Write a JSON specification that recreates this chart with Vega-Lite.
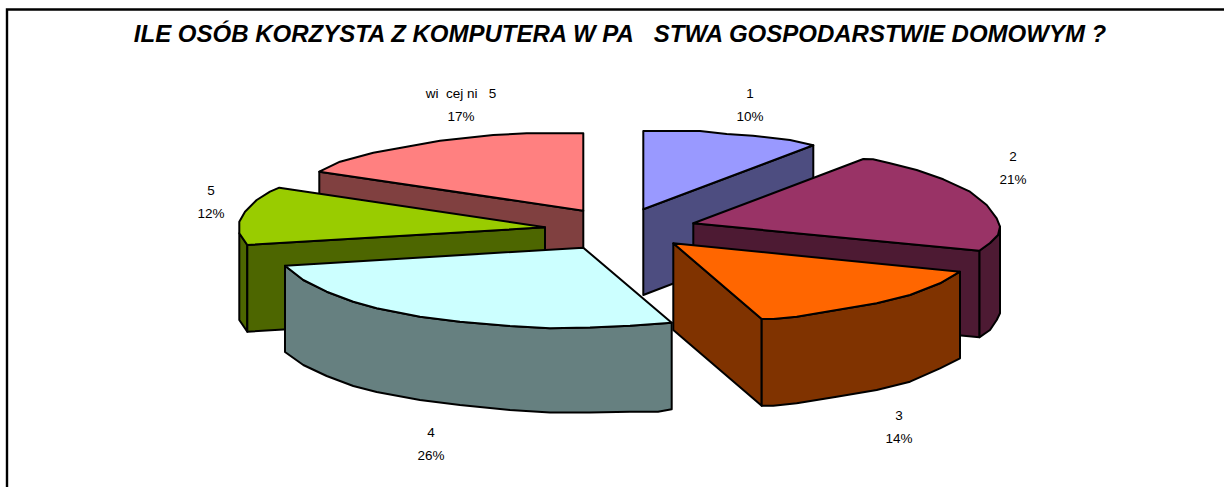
{
"$schema":"https://vega.github.io/schema/vega-lite/v6.json",
"description":"Vega-Lite has no 3D or elliptical pie, so each slice face is a closed outline whose vertices were read off the reference picture, in the picture's own x/y units; the shares and labels are the printed values.",
"width":1224,"height":487,"padding":0,"autosize":{"type":"none"},
"background":"white",
"view":{"stroke":null},
"datasets":{
"frame":[{"i":0,"x":7,"y":487},{"i":1,"x":7,"y":9.5},{"i":2,"x":1224,"y":9.5}],
"parts":[
{"part":"1 side","i":0,"x":643.3,"y":209.3},{"part":"1 side","i":1,"x":813.3,"y":145.3},{"part":"1 side","i":2,"x":813.3,"y":230},{"part":"1 side","i":3,"x":643.3,"y":295},
{"part":"1 top","i":0,"x":643.3,"y":131},{"part":"1 top","i":1,"x":700,"y":131},{"part":"1 top","i":2,"x":726.7,"y":134},{"part":"1 top","i":3,"x":753,"y":135.7},{"part":"1 top","i":4,"x":790,"y":140},{"part":"1 top","i":5,"x":813.3,"y":145.3},{"part":"1 top","i":6,"x":643.3,"y":209.3},
{"part":"2 rim","i":0,"x":979.3,"y":250.7},{"part":"2 rim","i":1,"x":990,"y":243},{"part":"2 rim","i":2,"x":998,"y":235},{"part":"2 rim","i":3,"x":1000,"y":226.7},{"part":"2 rim","i":4,"x":1000,"y":313.3},{"part":"2 rim","i":5,"x":996.7,"y":320},{"part":"2 rim","i":6,"x":990,"y":330},{"part":"2 rim","i":7,"x":979.3,"y":337.3},
{"part":"2 side","i":0,"x":693.3,"y":223.3},{"part":"2 side","i":1,"x":979.3,"y":250.7},{"part":"2 side","i":2,"x":979.3,"y":337.3},{"part":"2 side","i":3,"x":693.3,"y":310},
{"part":"2 top","i":0,"x":693.3,"y":223.3},{"part":"2 top","i":1,"x":863.3,"y":159},{"part":"2 top","i":2,"x":873,"y":159.3},{"part":"2 top","i":3,"x":890,"y":163.3},{"part":"2 top","i":4,"x":916.7,"y":170},{"part":"2 top","i":5,"x":943.3,"y":179.3},{"part":"2 top","i":6,"x":970,"y":191.7},{"part":"2 top","i":7,"x":986.7,"y":205},{"part":"2 top","i":8,"x":996.7,"y":218.3},{"part":"2 top","i":9,"x":1000,"y":226.7},{"part":"2 top","i":10,"x":998,"y":235},{"part":"2 top","i":11,"x":990,"y":243},{"part":"2 top","i":12,"x":979.3,"y":250.7},
{"part":"3 side","i":0,"x":673.3,"y":243.3},{"part":"3 side","i":1,"x":761.7,"y":319},{"part":"3 side","i":2,"x":761.7,"y":405.7},{"part":"3 side","i":3,"x":673.3,"y":330},
{"part":"3 rim","i":0,"x":761.7,"y":319},{"part":"3 rim","i":1,"x":773.3,"y":319},{"part":"3 rim","i":2,"x":796.7,"y":316.7},{"part":"3 rim","i":3,"x":836.7,"y":310},{"part":"3 rim","i":4,"x":876.7,"y":303.3},{"part":"3 rim","i":5,"x":910,"y":295},{"part":"3 rim","i":6,"x":940,"y":283.3},{"part":"3 rim","i":7,"x":960,"y":271.7},{"part":"3 rim","i":8,"x":960,"y":358.3},{"part":"3 rim","i":9,"x":940,"y":368.3},{"part":"3 rim","i":10,"x":910,"y":381.7},{"part":"3 rim","i":11,"x":876.7,"y":390},{"part":"3 rim","i":12,"x":836.7,"y":396.7},{"part":"3 rim","i":13,"x":796.7,"y":403.3},{"part":"3 rim","i":14,"x":773.3,"y":405.7},{"part":"3 rim","i":15,"x":761.7,"y":405.7},
{"part":"3 top","i":0,"x":673.3,"y":243.3},{"part":"3 top","i":1,"x":960,"y":271.7},{"part":"3 top","i":2,"x":940,"y":283.3},{"part":"3 top","i":3,"x":910,"y":295},{"part":"3 top","i":4,"x":876.7,"y":303.3},{"part":"3 top","i":5,"x":836.7,"y":310},{"part":"3 top","i":6,"x":796.7,"y":316.7},{"part":"3 top","i":7,"x":773.3,"y":319},{"part":"3 top","i":8,"x":761.7,"y":319},
{"part":"w side","i":0,"x":319.3,"y":171.7},{"part":"w side","i":1,"x":583.3,"y":210.7},{"part":"w side","i":2,"x":583.3,"y":297},{"part":"w side","i":3,"x":319.3,"y":258},
{"part":"w top","i":0,"x":319.3,"y":171.7},{"part":"w top","i":1,"x":340,"y":161.7},{"part":"w top","i":2,"x":373.3,"y":152.7},{"part":"w top","i":3,"x":406.7,"y":146.7},{"part":"w top","i":4,"x":440,"y":140.7},{"part":"w top","i":5,"x":493.3,"y":135},{"part":"w top","i":6,"x":526.7,"y":133.3},{"part":"w top","i":7,"x":583.3,"y":133.3},{"part":"w top","i":8,"x":583.3,"y":210.7},
{"part":"5 rim","i":0,"x":239.3,"y":233.3},{"part":"5 rim","i":1,"x":247.3,"y":245},{"part":"5 rim","i":2,"x":247.3,"y":331.7},{"part":"5 rim","i":3,"x":239.3,"y":320},
{"part":"5 side","i":0,"x":247.3,"y":245},{"part":"5 side","i":1,"x":545,"y":227.3},{"part":"5 side","i":2,"x":545,"y":314},{"part":"5 side","i":3,"x":247.3,"y":331.7},
{"part":"5 top","i":0,"x":545,"y":227.3},{"part":"5 top","i":1,"x":279.3,"y":187.7},{"part":"5 top","i":2,"x":270,"y":191.7},{"part":"5 top","i":3,"x":256.7,"y":200},{"part":"5 top","i":4,"x":245,"y":211.7},{"part":"5 top","i":5,"x":239.3,"y":221.7},{"part":"5 top","i":6,"x":239.3,"y":233.3},{"part":"5 top","i":7,"x":247.3,"y":245},
{"part":"4 rim","i":0,"x":285,"y":265.7},{"part":"4 rim","i":1,"x":303.3,"y":280},{"part":"4 rim","i":2,"x":326.7,"y":291.7},{"part":"4 rim","i":3,"x":353.3,"y":301.7},{"part":"4 rim","i":4,"x":376.7,"y":308.3},{"part":"4 rim","i":5,"x":420,"y":316.7},{"part":"4 rim","i":6,"x":460,"y":321.7},{"part":"4 rim","i":7,"x":510,"y":326},{"part":"4 rim","i":8,"x":550,"y":328.3},{"part":"4 rim","i":9,"x":590,"y":327.5},{"part":"4 rim","i":10,"x":630,"y":325.7},{"part":"4 rim","i":11,"x":671.7,"y":322.7},{"part":"4 rim","i":12,"x":671.7,"y":409.3},{"part":"4 rim","i":13,"x":658,"y":411.7},{"part":"4 rim","i":14,"x":630,"y":411.7},{"part":"4 rim","i":15,"x":590,"y":412.5},{"part":"4 rim","i":16,"x":550,"y":412.5},{"part":"4 rim","i":17,"x":510,"y":410},{"part":"4 rim","i":18,"x":460,"y":405},{"part":"4 rim","i":19,"x":420,"y":400},{"part":"4 rim","i":20,"x":376.7,"y":392},{"part":"4 rim","i":21,"x":353.3,"y":386},{"part":"4 rim","i":22,"x":326.7,"y":376},{"part":"4 rim","i":23,"x":303.3,"y":365},{"part":"4 rim","i":24,"x":285,"y":352},
{"part":"4 top","i":0,"x":583.3,"y":247.7},{"part":"4 top","i":1,"x":671.7,"y":322.7},{"part":"4 top","i":2,"x":630,"y":325.7},{"part":"4 top","i":3,"x":590,"y":327.5},{"part":"4 top","i":4,"x":550,"y":328.3},{"part":"4 top","i":5,"x":510,"y":326},{"part":"4 top","i":6,"x":460,"y":321.7},{"part":"4 top","i":7,"x":420,"y":316.7},{"part":"4 top","i":8,"x":376.7,"y":308.3},{"part":"4 top","i":9,"x":353.3,"y":301.7},{"part":"4 top","i":10,"x":326.7,"y":291.7},{"part":"4 top","i":11,"x":303.3,"y":280},{"part":"4 top","i":12,"x":285,"y":265.7}
],
"labels":[
{"category":"1","share":"10%","x":750,"y":94,"y2":117},
{"category":"2","share":"21%","x":1013,"y":157,"y2":180},
{"category":"3","share":"14%","x":899,"y":416,"y2":439},
{"category":"4","share":"26%","x":431,"y":433,"y2":456},
{"category":"5","share":"12%","x":211,"y":191,"y2":214},
{"category":"wi\u00a0\u00a0cej ni\u00a0\u00a0 5","share":"17%","x":461,"y":94,"y2":117}
],
"title":[{"text":"ILE OSÓB KORZYSTA Z KOMPUTERA W PA\u00a0\u00a0\u00a0STWA GOSPODARSTWIE DOMOWYM ?","x":620,"y":35}]
},
"layer":[
{"data":{"name":"frame"},
 "mark":{"type":"line","stroke":"black","strokeWidth":2.4,"clip":true},
 "encoding":{"x":{"field":"x","type":"quantitative","scale":{"domain":[0,1224],"nice":false,"zero":false},"axis":null},"y":{"field":"y","type":"quantitative","scale":{"domain":[487,0],"nice":false,"zero":false},"axis":null},"order":{"field":"i","type":"quantitative"}}},
{"data":{"name":"parts"},
 "mark":{"type":"line","filled":true,"interpolate":"linear-closed","stroke":"black","strokeWidth":2,"strokeJoin":"round"},
 "encoding":{
  "x":{"field":"x","type":"quantitative","axis":null},
  "y":{"field":"y","type":"quantitative","axis":null},
  "order":{"field":"i","type":"quantitative"},
  "detail":{"field":"part"},
  "fill":{"field":"part","type":"nominal","legend":null,"scale":{
   "domain":["1 side","1 top","2 rim","2 side","2 top","3 side","3 rim","3 top","w side","w top","5 rim","5 side","5 top","4 rim","4 top"],
   "range":["#4D4D80","#9999FF","#4D1A33","#4D1A33","#993366","#803300","#803300","#FF6600","#804040","#FF8080","#4D6600","#4D6600","#99CC00","#668080","#CCFFFF"]}}
 }},
{"data":{"name":"labels"},
 "mark":{"type":"text","font":"Liberation Sans","fontSize":13.5,"fill":"black","align":"center","baseline":"middle"},
 "encoding":{"x":{"field":"x","type":"quantitative"},"y":{"field":"y","type":"quantitative"},"text":{"field":"category"}}},
{"data":{"name":"labels"},
 "mark":{"type":"text","font":"Liberation Sans","fontSize":13.5,"fill":"black","align":"center","baseline":"middle"},
 "encoding":{"x":{"field":"x","type":"quantitative"},"y":{"field":"y2","type":"quantitative"},"text":{"field":"share"}}},
{"data":{"name":"title"},
 "mark":{"type":"text","font":"Liberation Sans","fontSize":24,"fontWeight":"bold","fontStyle":"italic","fill":"black","align":"center","baseline":"middle"},
 "encoding":{"x":{"field":"x","type":"quantitative"},"y":{"field":"y","type":"quantitative"},"text":{"field":"text"}}}
]
}
